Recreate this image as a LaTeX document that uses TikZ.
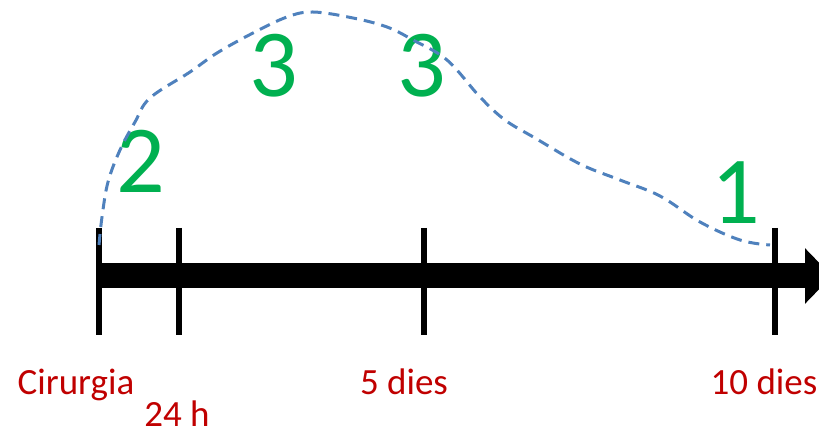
\documentclass[tikz,border=0pt]{standalone}
\usepackage{fontspec}
\setmainfont{Carlito}
\usetikzlibrary{arrows.meta}
\definecolor{tempsred}{RGB}{192,0,0}
\definecolor{dolorgreen}{RGB}{0,176,80}
\definecolor{corbablue}{RGB}{79,129,189}
\begin{document}
\begin{tikzpicture}[x=1pt, y=-1pt,
    marca/.style={line width=6pt},
    temps/.style={text=tempsred, anchor=base, inner sep=0pt, font=\fontsize{37}{42}\selectfont},
    dolor/.style={text=dolorgreen, inner sep=0pt, font=\fontsize{96}{110}\selectfont}]
    \useasboundingbox (0,0) rectangle (819,438);
    \clip (0,0) rectangle (819,438);

    % eix del temps
    \coordinate (inici) at (97,276);
    \coordinate (final) at (832,276);
    \draw[line width=25pt, -{Triangle[length=27pt, width=54pt]}] (inici) -- (final);

    % marques
    \foreach \x in {99, 179, 424, 775} {
        \draw[marca] (\x,228) -- (\x,335);
    }

    % etiquetes
    \node[temps] (cirurgia) at (76,394) {Cirurgia};
    \node[temps] (h24) at (177,426) {24 h};
    \node[temps] (dies5) at (404,394) {5 dies};
    \node[temps] (dies10) at (764,394) {10 dies};

    % nivells de dolor
    \node[dolor] (d2) at (141,161) {2};
    \node[dolor] (d3a) at (274,66) {3};
    \node[dolor] (d3b) at (422,66) {3};
    \node[dolor] (d1) at (736,193) {1};

    % corba
    \draw[corbablue, line width=3pt, dash pattern=on 11pt off 7pt]
        plot[smooth, tension=0.6] coordinates {(99,245) (102,217) (108,182) (120,150) (135,122)
        (150,98) (190,72) (217,53) (253,33) (287,17) (313,12) (353,18) (387,27) (413,40)
        (447,60) (480,97) (505,120) (535,138) (580,164) (620,180) (660,196) (700,222)
        (740,240) (770,245)};
\end{tikzpicture}
\end{document}
